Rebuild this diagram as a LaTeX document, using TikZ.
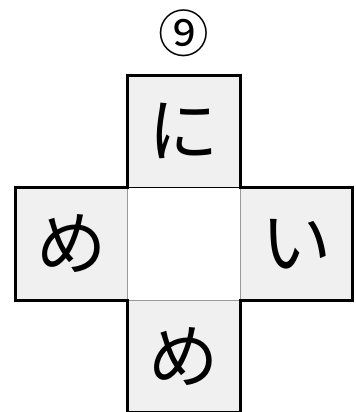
\documentclass[tikz,border=0pt]{standalone}
\usepackage{fontspec}
\newfontfamily\jpfont{Noto Sans CJK JP}
\usetikzlibrary{positioning}

\begin{document}
\begin{tikzpicture}[x=0.25mm, y=-0.25mm,
  face/.style={fill=black!6, minimum size=28mm, inner sep=0, font=\jpfont\fontsize{50}{50}\selectfont},
  hole/.style={face, fill=white},
  rim/.style={black, line width=0.7mm, line join=miter},
  seam/.style={black!40, line width=0.25mm},
  fold/.style={black, line width=0.25mm},
  tag/.style={font=\jpfont\fontsize{36}{36}\selectfont}]
\useasboundingbox (0,0) rectangle (355,412);
% the net of the cube
\node[hole] (mid) at (184,244) {};
\node[face, above=0pt of mid] (up)    {に};
\node[face, left=0pt of mid]  (west)  {め};
\node[face, right=0pt of mid] (east)  {い};
\node[face, below=0pt of mid] (down)  {め};
\node[tag] (num) at (184,33) {⑨};
% inner seams
\draw[seam] (mid.north west) -- (mid.south west) -- (mid.south east) -- (mid.north east);
\draw[fold] (mid.north west) -- (mid.north east);
% outline
\draw[rim] (up.south west) -- (up.north west) -- (up.north east) -- (up.south east)
  -- (east.north east) -- (east.south east) -- (east.south west)
  -- (down.north east) -- (down.south east) -- (down.south west) -- (down.north west)
  -- (west.south west) -- (west.north west) -- cycle;
\end{tikzpicture}
\end{document}
